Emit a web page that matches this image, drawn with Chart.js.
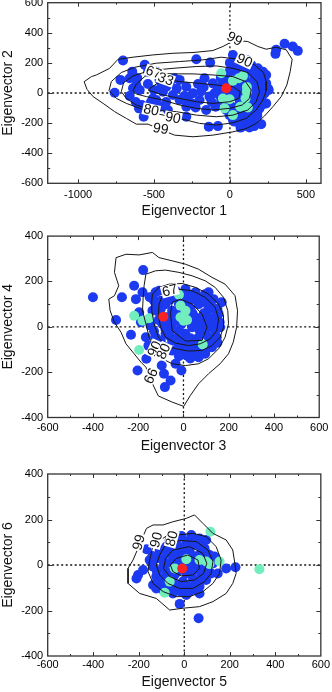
<!DOCTYPE html>
<html>
<head>
<meta charset="utf-8">
<script src="https://cdn.jsdelivr.net/npm/chart.js@4.4.1/dist/chart.umd.min.js"></script>
<style>
    html, body { margin: 0; padding: 0; background: #fff; overflow: hidden; }
    body { width: 332px; height: 692px; position: relative; }
    canvas { position: absolute; left: 0; }
</style>
</head>
<body>
<canvas id="c1" width="332" height="235" style="top:-10px;width:332px;height:235px"></canvas>
<canvas id="c2" width="332" height="235" style="top:225px;width:332px;height:235px"></canvas>
<canvas id="c3" width="332" height="230" style="top:462px;width:332px;height:230px"></canvas>
<script>
// ---- panel 1: eigenvector 1 vs 2 ----
const p1XTicks = [-1000, -500, 0, 500];
const p1XMinor = [-1250, -750, -250, 250];
const p1YTicks = [-600, -400, -200, 0, 200, 400, 600];
const p1YMinor = [-500, -300, -100, 100, 300, 500];

const p1Blue = [
    [-704, 216], [-759, 2], [-721, 87], [-660, 98], [-643, 142], [-616, 53], [-638, 31], [-594, 20], [-561, 187], [-539, 142],
    [-599, -102], [-550, -113], [-568, -158], [-518, -91], [-507, -36], [-485, -47], [-463, -91], [-408, -113], [-441, 9], [-419, 42],
    [-463, 87], [-364, 98], [-331, 87], [-287, 42], [-375, -13], [-331, -47], [-287, -91], [-353, -169], [-287, -158], [-221, 224],
    [-130, 202], [-167, 98], [-173, 38], [-134, -24], [-112, 64], [-79, 31], [-68, -13], [-156, -113], [-226, -96], [-94, -91],
    [-139, -224], [-79, -220], [-243, -2], [-200, -47], [-485, 142], [-397, 64], [-276, -47], [-660, -20], [-610, 100], [-210, 60],
    [-190, 10], [20, 253], [64, 220], [107, 220], [184, 164], [217, 142], [162, 109], [195, 87], [239, 64], [250, 31],
    [217, -13], [195, -47], [173, -91], [151, -136], [107, -169], [64, -202], [20, -180], [-2, -147], [31, -113], [64, -47],
    [20, -2], [53, 42], [86, 64], [129, 42], [151, -2], [129, -47], [-46, 64], [-2, 87], [29, 131], [107, -220],
    [206, -207], [151, -180], [-24, -58], [-24, -113], [-57, -47], [107, 164], [140, 187], [239, 120], [195, -102], [64, -136],
    [305, 287], [300, 260], [360, 327], [414, 309], [447, 280], [129, -229], [239, -69], [90, 160], [170, 20], [100, -100],
    [140, -150], [40, -150], [180, -150], [80, -180], [20, 200], [256, 20],
    [0, 200], [50, 190], [120, 190], [170, 130], [200, 110], [220, 90], [0, 150], [50, 150], [140, 140], [-30, 100],
    [40, 80], [100, 90], [150, 70], [200, 40], [230, 0], [-40, 0], [10, 20], [60, 10], [100, -10], [180, -20],
    [-10, -30], [40, -20], [80, -60], [160, -60], [210, -80], [0, -80], [50, -90], [140, -100], [180, -130], [90, -140],
    [30, -190], [70, -230], [160, -220], [-60, 100], [-100, 0], [-120, -60],
    [-620, -60], [-580, -80], [-520, -60], [-540, 60], [-500, 20], [-450, 50], [-420, -60], [-350, 30], [-300, -20], [-250, -70]
];
const p1Aqua = [
    [-57, 131], [20, 82], [59, 98], [86, 113], [112, 9], [103, -36], [68, -91], [118, -96], [-46, -36], [-2, -42],
    [-35, -102], [20, -147], [112, 40]
];
const p1Red = [[-24, 31]];

const p1C99 = [
    [-960, 75], [-912, 109], [-879, 120], [-792, 164], [-737, 224], [-638, 238], [-507, 253], [-375, 264], [-243, 269], [-112, 282],
    [-46, 309], [31, 350], [118, 342], [184, 309], [239, 291], [305, 304], [371, 287], [410, 224], [397, 142], [375, 53],
    [338, -24], [283, -91], [228, -153], [173, -202], [107, -236], [20, -258], [-112, -280], [-243, -291], [-364, -280], [-452, -245],
    [-539, -207], [-616, -207], [-682, -169], [-759, -124], [-835, -69], [-901, -24], [-941, 24]
];
const p1C90 = [
    [-796, 16], [-781, 76], [-715, 136], [-627, 171], [-485, 198], [-331, 209], [-178, 220], [-57, 238], [96, 220], [162, 187],
    [221, 136], [239, 76], [239, 16], [217, -47], [173, -113], [107, -169], [20, -198], [-90, -213], [-200, -202], [-287, -180],
    [-375, -162], [-485, -136], [-594, -102], [-682, -69], [-748, -36]
];
const p1C80 = [
    [-715, 9], [-700, 69], [-638, 113], [-529, 149], [-375, 164], [-221, 176], [-90, 180], [20, 164], [118, 136], [178, 76],
    [195, 9], [173, -58], [118, -113], [20, -147], [-90, -158], [-221, -147], [-353, -124], [-518, -113], [-616, -80], [-682, -36]
];
const p1C67 = [
    [-638, 16], [-616, 60], [-560, 110], [-502, 135], [-375, 127], [-243, 127], [-112, 120], [20, 109], [103, 76], [140, 20],
    [129, -36], [81, -80], [-2, -102], [-112, -113], [-221, -102], [-331, -80], [-441, -47], [-550, -24], [-616, -7]
];
const p1C33 = [
    [-539, 20], [-485, 60], [-423, 90], [-331, 76], [-200, 64], [-90, 53], [20, 42], [68, 9], [59, -36], [-2, -58],
    [-112, -69], [-221, -58], [-331, -36], [-441, -13]
];
const p1Labels = [
    ['99', 31, 360, 28], ['90', 96, 215, 25], ['67', -502, 138, 20], ['33', -423, 92, 20],
    ['80', -518, -113, 12], ['90', -375, -165, 12], ['99', -456, -238, 10]
];

// ---- panel 2: eigenvector 3 vs 4 ----
const p2XTicks = [-600, -400, -200, 0, 200, 400, 600];
const p2XMinor = [-500, -300, -100, 100, 300, 500];
const p2YTicks = [-400, -200, 0, 200, 400];
const p2YMinor = [-300, -100, 100, 300];

const p2Blue = [
    [-400, 130], [-298, 30], [-272, 130], [-178, 250], [-218, 181], [-181, 152], [-210, 122], [-196, 64], [-232, -35], [-166, -46],
    [-155, -83], [-164, -141], [-203, -193], [-96, -171], [-86, -207], [-57, -237], [-82, -266], [-35, -163], [-9, -193], [16, -127],
    [53, -127], [-108, 159], [-130, 115], [-137, 71], [-188, 20], [-145, 5],
    [-79, 152], [-35, 159], [9, 166], [53, 152], [96, 144], [133, 122], [169, 108], [155, 57], [162, -2], [147, -46],
    [126, -90], [96, -119], [67, -134], [-79, 100], [-50, 71], [-20, 100], [23, 115], [67, 100], [111, 86], [140, 42],
    [126, -2], [96, -17], [67, -46], [38, -75], [9, -90], [-20, -75], [-50, -61], [-79, -31], [-93, 13], [-72, 42],
    [-35, 27], [9, 42], [53, 42], [82, 27], [38, -2], [9, -31], [-20, -17], [-50, -9], [67, -9], [111, -46],
    [-79, -90], [-108, -105], [-123, -46], [-108, 64], [-101, 115], [-64, 137], [1, 137], [67, 130], [104, 49], [133, 78],
    [31, 78], [-13, 57], [-50, -105], [-13, -119], [38, -112], [111, 152], [-123, 152], [-149, 130],
    [-100, 80], [-60, 120], [-30, 130], [20, 140], [50, 120], [90, 110], [120, 110], [150, 80], [-110, 30], [-60, 10],
    [-10, 10], [30, 20], [70, 10], [100, 10], [140, 10], [-100, -60], [-60, -40], [-30, -50], [0, -60], [30, -50],
    [60, -70], [90, -80], [120, -70], [-90, -120], [-30, -100], [10, -110], [60, -100], [100, -100], [-40, 50], [0, 90],
    [40, 60], [90, 60], [120, 30], [-120, 100], [-80, -10], [140, -20], [-20, -130], [30, -140], [80, -120], [160, 20],
    [150, -70], [-130, -20]
];
const p2Aqua = [
    [-218, 49], [-181, 27], [-152, 38], [-196, -102], [-20, 141], [-13, 93], [9, 71], [-13, 42], [1, 27], [16, 30], [85, -78]
];
const p2Red = [[-89, 44]];

const p2C99 = [
    [-298, 305], [-254, 320], [-196, 317], [-137, 328], [-108, 305], [-50, 291], [9, 276], [67, 254], [126, 218], [184, 188],
    [228, 137], [239, 71], [235, -2], [220, -68], [199, -119], [162, -163], [111, -207], [67, -251], [31, -302], [1, -351],
    [-50, -332], [-111, -305], [-140, -245], [-166, -178], [-188, -156], [-218, -119], [-254, -75], [-276, -24], [-305, 20], [-324, 71],
    [-330, 122], [-305, 137], [-286, 181], [-305, 240]
];
const p2C90 = [
    [-166, 232], [-123, 247], [-79, 250], [-20, 240], [38, 225], [96, 203], [140, 174], [177, 130], [196, 71], [199, 13],
    [184, -46], [155, -97], [111, -141], [67, -163], [9, -171], [-50, -163], [-93, -141], [-126, -97], [-152, -46], [-166, 13],
    [-181, 71], [-178, 130], [-174, 181]
];
const p2C80 = [
    [-137, 144], [-108, 174], [-64, 188], [-6, 191], [53, 174], [111, 144], [155, 100], [177, 49], [177, -2], [162, -46],
    [126, -83], [82, -104], [23, -107], [-35, -97], [-79, -83], [-111, -46], [-130, 13], [-140, 71], [-140, 115]
];
const p2C67 = [
    [-93, 137], [-20, 166], [38, 159], [96, 130], [140, 86], [155, 35], [147, -17], [118, -53], [74, -75], [23, -83],
    [-35, -72], [-79, -46], [-101, -2], [-111, 49], [-108, 100]
];
const p2C33 = [
    [-13, 122], [38, 100], [82, 57], [104, -2], [82, -60], [9, -63], [-50, -17], [-57, 57], [-50, 108]
];
const p2Labels = [
    ['67', -60, 160, -15], ['90', -128, -97, -65], ['80', -88, -108, -65], ['99', -147, -215, 115]
];

// ---- panel 3: eigenvector 5 vs 6 ----
const p3XTicks = [-600, -400, -200, 0, 200, 400, 600];
const p3XMinor = [-500, -300, -100, 100, 300, 500];
const p3YTicks = [-400, -200, 0, 200, 400];
const p3YMinor = [-300, -100, 100, 300];

const p3Blue = [
    [-166, 69], [-203, -44], [-210, -59], [-181, -22], [-137, -88], [-20, -171], [63, -234], [184, -15], [225, -10], [147, -37],
    [133, 37], [96, 110], [31, 132], [-64, 110], [-123, 103], [-152, 22], [67, -125], [9, -132], [-50, -125], [-93, -110],
    [-123, -103],
    [-108, 66], [-79, 81], [-35, 95], [9, 103], [53, 95], [89, 73], [111, 44], [126, 7], [118, -37], [96, -66],
    [67, -95], [31, -110], [-13, -117], [-57, -103], [-93, -81], [-123, -51], [-137, -7], [-130, 29], [-93, 22], [-64, 51],
    [-20, 59], [23, 66], [67, 44], [89, 7], [74, -37], [38, -59], [-6, -73], [-50, -59], [-79, -29], [-93, -7],
    [-42, -7], [1, 22], [45, -7], [9, -37], [-20, -22], [-35, 22], [23, 22], [-13, 127], [67, 117],
    [-110, 30], [-60, 80], [-40, 60], [0, 80], [40, 90], [70, 80], [100, 50], [-120, -30], [-60, 10], [-20, 0],
    [20, -10], [60, 10], [100, -20], [-100, -60], [-60, -80], [-30, -90], [10, -90], [50, -80], [80, -60], [-110, -90],
    [-30, -110], [20, -120], [50, -110], [-80, 60], [-50, 100], [30, 110], [110, 20], [-140, 40], [-80, -50], [60, -20],
    [-10, 40], [40, 40], [-40, -40], [30, -40], [90, -40]
];
const p3Aqua = [
    [115, 146], [9, 25], [-42, -15], [67, 22], [96, 15], [111, 4], [155, 15], [330, -19], [-64, -73], [-86, -122]
];
const p3Red = [[-9, -15]];

const p3C99 = [
    [-225, 22], [-247, -15], [-247, -81], [-196, -125], [-123, -147], [-64, -198], [-6, -190], [67, -183], [126, -161], [184, -125],
    [213, -81], [228, -37], [220, 22], [213, 66], [184, 110], [126, 139], [82, 183], [45, 220], [9, 205], [-50, 190],
    [-93, 176], [-137, 176], [-166, 161]
];
const p3C90 = [
    [-152, 22], [-137, 88], [-79, 127], [38, 139], [96, 125], [140, 81], [162, 22], [155, -37], [126, -81], [82, -117],
    [23, -139], [-35, -139], [-93, -117], [-137, -81], [-159, -29]
];
const p3C80 = [
    [-108, 44], [-85, 85], [-20, 108], [53, 103], [104, 66], [126, 15], [118, -37], [89, -73], [38, -103], [-20, -103],
    [-72, -81], [-108, -44], [-123, 0]
];
const p3C67 = [
    [-82, 29], [-50, 66], [23, 81], [82, 51], [99, 7], [85, -37], [45, -66], [-13, -73], [-64, -51], [-91, -15]
];
const p3C33 = [
    [-61, 0], [-35, 29], [16, 44], [60, 22], [67, -15], [38, -44], [-13, -48], [-50, -29]
];
const p3Labels = [
    ['99', -200, 100, -75], ['90', -123, 110, -75], ['80', -55, 116, -75]
];

const BLUE = '#1c3aef';
const AQUA = '#72eebe';
const RED = '#ff2222';
const FONT = "'Liberation Sans', Arial, Helvetica, sans-serif";

function pts(arr) {
    return arr.map(([x, y]) => ({ x, y }));
}

function dots(arr, color, order) {
    return { data: pts(arr), backgroundColor: color, borderWidth: 0, pointRadius: 5, pointHoverRadius: 5, order: order };
}

function contour(arr) {
    const d = pts(arr);
    d.push(d[0]); // closed loop
    return { data: d, showLine: true, pointRadius: 0, borderColor: '#161616', borderWidth: 1, fill: false, tension: 0, order: 1 };
}

function zeroLine(data) {
    return { data: data, showLine: true, pointRadius: 0, borderColor: '#111', borderWidth: 1.3, borderDash: [2, 2.5], fill: false, order: 5 };
}

// frame with inward ticks on all four sides
const framePlugin = {
    id: 'frame',
    afterDraw(chart, args, o) {
        const { ctx, chartArea: a, scales: { x, y } } = chart;
        ctx.save();
        ctx.strokeStyle = '#333';
        ctx.lineWidth = 1.3;
        ctx.strokeRect(a.left, a.top, a.right - a.left, a.bottom - a.top);
        ctx.lineWidth = 1;
        ctx.beginPath();
        const xt = (vals, len) => vals.forEach(v => {
            if (v <= x.min || v >= x.max) return;
            const px = Math.round(x.getPixelForValue(v)) + 0.5;
            ctx.moveTo(px, a.bottom); ctx.lineTo(px, a.bottom - len);
            ctx.moveTo(px, a.top); ctx.lineTo(px, a.top + len);
        });
        const yt = (vals, len) => vals.forEach(v => {
            if (v <= y.min || v >= y.max) return;
            const py = Math.round(y.getPixelForValue(v)) + 0.5;
            ctx.moveTo(a.left, py); ctx.lineTo(a.left + len, py);
            ctx.moveTo(a.right, py); ctx.lineTo(a.right - len, py);
        });
        xt(o.xMajor, 4); xt(o.xMinor, 2);
        yt(o.yMajor, 4.5); yt(o.yMinor, 2.5);
        ctx.stroke();
        ctx.restore();
    }
};

// contour level labels
const labelPlugin = {
    id: 'clabels',
    afterDatasetsDraw(chart, args, o) {
        const { ctx, chartArea: a, scales: { x, y } } = chart;
        ctx.save();
        ctx.beginPath();
        ctx.rect(a.left, a.top, a.right - a.left, a.bottom - a.top);
        ctx.clip();
        ctx.font = '14px ' + FONT;
        ctx.textAlign = 'center';
        ctx.textBaseline = 'middle';
        o.items.forEach(([txt, vx, vy, rot]) => {
            ctx.save();
            ctx.translate(x.getPixelForValue(vx), y.getPixelForValue(vy));
            ctx.rotate(rot * Math.PI / 180);
            const w = ctx.measureText(txt).width;
            ctx.fillStyle = '#fff';
            ctx.fillRect(-w / 2 - 1, -6, w + 2, 12);
            ctx.fillStyle = '#111';
            ctx.fillText(txt, 0, 0.5);
            ctx.restore();
        });
        ctx.restore();
    }
};

function makePanel(id, cfg) {
    const [xmin, xmax] = cfg.xRange;
    const [ymin, ymax] = cfg.yRange;
    const datasets = [
        dots(cfg.red, RED, 0),
        ...cfg.contours.map(contour),
        dots(cfg.aqua, AQUA, 2),
        dots(cfg.blue, BLUE, 3),
        zeroLine([{ x: xmin, y: 0 }, { x: xmax, y: 0 }]),
        zeroLine([{ x: 0, y: ymin }, { x: 0, y: ymax }])
    ];
    new Chart(document.getElementById(id), {
        type: 'scatter',
        data: { datasets: datasets },
        plugins: [framePlugin, labelPlugin],
        options: {
            responsive: false,
            animation: false,
            events: [],
            layout: { padding: { left: 0, right: cfg.padRight, top: cfg.padTop, bottom: 0 } },
            plugins: {
                legend: { display: false },
                tooltip: { enabled: false },
                frame: { xMajor: cfg.xTicks, xMinor: cfg.xMinor, yMajor: cfg.yTicks, yMinor: cfg.yMinor },
                clabels: { items: cfg.labels }
            },
            scales: {
                x: {
                    type: 'linear',
                    min: xmin,
                    max: xmax,
                    grid: { display: false, drawTicks: false },
                    border: { display: false },
                    afterBuildTicks: s => { s.ticks = cfg.xTicks.map(v => ({ value: v })); },
                    afterFit: s => { s.height = cfg.xHeight; },
                    ticks: {
                        padding: cfg.tickPad,
                        color: '#000',
                        maxRotation: 0,
                        font: { family: FONT, size: 11 },
                        callback: v => String(v)
                    },
                    title: {
                        display: true,
                        text: cfg.xTitle,
                        color: '#111',
                        font: { family: FONT, size: 14 },
                        padding: { top: 0, bottom: cfg.titlePad }
                    }
                },
                y: {
                    type: 'linear',
                    min: ymin,
                    max: ymax,
                    grid: { display: false, drawTicks: false },
                    border: { display: false },
                    afterBuildTicks: s => { s.ticks = cfg.yTicks.map(v => ({ value: v })); },
                    afterFit: s => { s.width = 47.7; },
                    ticks: {
                        padding: 4.5,
                        color: '#000',
                        font: { family: FONT, size: 11 },
                        callback: v => String(v)
                    },
                    title: {
                        display: true,
                        text: cfg.yTitle,
                        color: '#111',
                        font: { family: FONT, size: 14 },
                        padding: { top: 0, bottom: 0 }
                    }
                }
            }
        }
    });
}

makePanel('c1', {
    xRange: [-1200, 600], yRange: [-600, 600],
    xTicks: p1XTicks, xMinor: p1XMinor, yTicks: p1YTicks, yMinor: p1YMinor,
    blue: p1Blue, aqua: p1Aqua, red: p1Red,
    contours: [p1C99, p1C90, p1C80, p1C67, p1C33], labels: p1Labels,
    xTitle: 'Eigenvector 1', yTitle: 'Eigenvector 2',
    padTop: 12.7, padRight: 11, xHeight: 41.7, titlePad: 5.3, tickPad: 4.6
});
makePanel('c2', {
    xRange: [-600, 600], yRange: [-400, 400],
    xTicks: p2XTicks, xMinor: p2XMinor, yTicks: p2YTicks, yMinor: p2YMinor,
    blue: p2Blue, aqua: p2Aqua, red: p2Red,
    contours: [p2C99, p2C90, p2C80, p2C67, p2C33], labels: p2Labels,
    xTitle: 'Eigenvector 3', yTitle: 'Eigenvector 4',
    padTop: 10, padRight: 10.3, xHeight: 42.5, titlePad: 5.9, tickPad: 3.6
});
makePanel('c3', {
    xRange: [-600, 600], yRange: [-400, 400],
    xTicks: p3XTicks, xMinor: p3XMinor, yTicks: p3YTicks, yMinor: p3YMinor,
    blue: p3Blue, aqua: p3Aqua, red: p3Red,
    contours: [p3C99, p3C90, p3C80, p3C67, p3C33], labels: p3Labels,
    xTitle: 'Eigenvector 5', yTitle: 'Eigenvector 6',
    padTop: 12, padRight: 10.3, xHeight: 36, titlePad: 1.3, tickPad: 2
});
</script>
</body>
</html>
